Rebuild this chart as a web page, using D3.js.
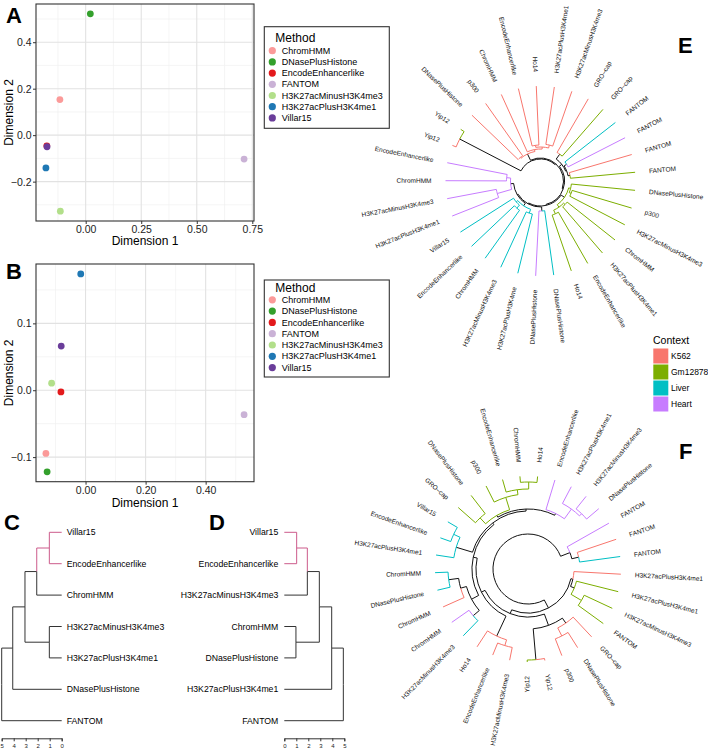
<!DOCTYPE html>
<html>
<head>
<meta charset="utf-8">
<script src="https://cdn.jsdelivr.net/npm/d3@7"></script>
<style>
html,body{margin:0;padding:0;background:#fff;}
svg{display:block;}
text{font-family:"Liberation Sans",Arial,Helvetica,sans-serif;}
</style>
</head>
<body>
<svg id="fig" width="708" height="754"></svg>
<script>
// ====================== DATA ======================
const methods = ["ChromHMM","DNasePlusHistone","EncodeEnhancerlike","FANTOM","H3K27acMinusH3K4me3","H3K27acPlusH3K4me1","Villar15"];
const methodColors = ["#FB9A99","#33A02C","#E31A1C","#CAB2D6","#B2DF8A","#1F78B4","#6A3D9A"];

// Panel A (MDS)
const mdsA_x = [-0.116, 0.021, -0.175, 0.713, -0.114, -0.179, -0.174];
const mdsA_y = [0.153, 0.522, -0.046, -0.103, -0.327, -0.141, -0.050];
const ticksA_x = [0, 0.25, 0.5, 0.75];
const ticksA_y = [-0.2, 0, 0.2, 0.4];

// Panel B (MDS)
const mdsB_x = [-0.132, -0.128, -0.082, 0.528, -0.113, -0.016, -0.081];
const mdsB_y = [-0.0945, -0.122, -0.0026, -0.0365, 0.0105, 0.174, 0.066];
const ticksB_x = [0, 0.2, 0.4];
const ticksB_y = [-0.1, 0, 0.1];

// Panels C and D (dendrograms: [height, child, child])
const treeC = [5.0, [4.08, [3.06, [2.08, [1.03, "Villar15", "EncodeEnhancerlike"], "ChromHMM"], [1.03, "H3K27acMinusH3K4me3", "H3K27acPlusH3K4me1"]], "DNasePlusHistone"], "FANTOM"];
const treeD = [4.92, [3.95, [2.92, [1.92, [1.03, "Villar15", "EncodeEnhancerlike"], "H3K27acMinusH3K4me3"], [0.97, "ChromHMM", "DNasePlusHistone"]], "H3K27acPlusH3K4me1"], "FANTOM"];
const dendroTicks = [0, 1, 2, 3, 4, 5];
const highlightLeaves = ["Villar15", "EncodeEnhancerlike"];

// Panels E and F (circular trees)
const contexts = ["K562", "Gm12878", "Liver", "Heart"];
const contextColors = ["#F8766D", "#7CAE00", "#00BFC4", "#C77CFF"];

const leavesE = ["Yip12","Yip12","DNasePlusHistone","p300","ChromHMM","EncodeEnhancerlike","Ho14","H3K27acPlusH3K4me1","H3K27acMinusH3K4me3","GRO\u2013cap",
  "GRO\u2013cap","FANTOM","FANTOM","FANTOM","FANTOM","DNasePlusHistone","p300","H3K27acMinusH3K4me3","ChromHMM","H3K27acPlusH3K4me1",
  "EncodeEnhancerlike","Ho14","DNasePlusHistone","DNasePlusHistone","H3K27acPlusH3K4me","H3K27acMinusH3K4me3","ChromHMM","EncodeEnhancerlike","Villar15","H3K27acPlusH3K4me1",
  "H3K27acMinusH3K4me3","ChromHMM","EncodeEnhancerlike"];
const contextE = [0,1,0,0,0,0,0,0,0,0, 1,2,3,0,1,1,1,1,1,1, 1,1,2,3,2,2,2,2,2,3, 3,3,3];
const treeE = [7.3, [0.4, 0, 1],
  [7.2, [6.5, [6.4, 2, 3], [6.3, 4, [6.1, [5.9, 5, 6], [5.8, 7, 8]]]],
    [7.1, [6.8, [6.2, 9, 10], [6.7, [6.4, 11, 12], [6.5, 13, 14]]],
      [7.0, [6.6, [6.4, 15, [6.2, 16, 17]], [6.3, [6.1, 18, 19], [5.9, 20, 21]]],
        [6.9, [6.5, 22, 23],
          [6.8, [6.5, [6.1, 24, 25], [6.3, [5.9, 26, 27], 28]],
                [6.5, [5.0, 29, 30], [6.1, 31, 32]]]]]]]];

const leavesF = ["GRO\u2013cap","DNasePlusHistone","p300","EncodeEnhancerlike","ChromHMM","Ho14","EncodeEnhancerlike","H3K27acPlusH3K4me1","H3K27acMinusH3K4me3","DNasePlusHistone",
  "FANTOM","FANTOM","FANTOM","H3K27acPlusH3K4me1","H3K27acPlusH3K4me1","H3K27acMinusH3K4me3","FANTOM","GRO\u2013cap","DNasePlusHistone","p300",
  "Yip12","Yip12","H3K27acMinusH3K4me3","EncodeEnhancerlike","Ho14","H3K27acMinusH3K4me3","ChromHMM","ChromHMM","DNasePlusHistone","ChromHMM",
  "H3K27acPlusH3K4me1","EncodeEnhancerlike","Villar15"];
const contextF = [1,1,1,1,1,1,3,3,3,3, 3,0,2,0,1,1,1,0,0,0, 0,1,0,0,0,2,3,0,2,2, 2,2,2];
const treeF = [5.8,
  [4.9, [4.7, 13, [4.3, 14, [3.1, 15, 16]]],
    [4.5, [3.3, [2.7, 17, [1.8, 18, 19]], [0.2, 20, 21]],
      [4.1, [1.9, [1.3, 22, 23], 24],
        [3.7, [2.9, [2.1, 25, 26], [2.3, 27, [1.3, 28, 29]]],
          [3.5, [1.8, 30, [1.1, 31, 32]],
            [3.3, [3.1, [2.3, 0, 1], [1.8, 2, [1.3, 3, [0.6, 4, 5]]]],
                  [3.1, 6, [1.9, 7, [1.6, 8, 9]]]]]]]]],
  [4.8, 10, [4.1, 11, 12]]];

// ====================== DRAWING ======================
const svg = d3.select("#fig");
svg.append("rect").attr("width", 708).attr("height", 754).attr("fill", "#fff");
const FONT = '"Liberation Sans",Arial,Helvetica,sans-serif';

function panelLetter(t, x, y) {
  svg.append("text").attr("x", x).attr("y", y).text(t)
    .attr("font-size", 22).attr("font-weight", "bold").attr("fill", "#000");
}

function expand(arr) {
  const e = d3.extent(arr), d = (e[1] - e[0]) * 0.05;
  return [e[0] - d, e[1] + d];
}
function minorBreaks(ticks, dom) {
  const s = ticks[1] - ticks[0], res = [];
  for (let k = -2; k < ticks.length + 2; k++) {
    const v = ticks[0] + s * k - s / 2;
    if (v >= dom[0] && v <= dom[1]) res.push(v);
  }
  return res;
}

function scatterPanel(o) {
  const x = d3.scaleLinear().domain(expand(o.xs)).range([o.x0, o.x1]);
  const y = d3.scaleLinear().domain(expand(o.ys)).range([o.y1, o.y0]);
  const g = svg.append("g");
  minorBreaks(o.xt, x.domain()).forEach(v => g.append("line").attr("x1", x(v)).attr("x2", x(v)).attr("y1", o.y0).attr("y2", o.y1).attr("stroke", "#F1F1F1").attr("stroke-width", 0.7));
  minorBreaks(o.yt, y.domain()).forEach(v => g.append("line").attr("y1", y(v)).attr("y2", y(v)).attr("x1", o.x0).attr("x2", o.x1).attr("stroke", "#F1F1F1").attr("stroke-width", 0.7));
  o.xt.forEach(v => g.append("line").attr("x1", x(v)).attr("x2", x(v)).attr("y1", o.y0).attr("y2", o.y1).attr("stroke", "#E2E2E2").attr("stroke-width", 1.1));
  o.yt.forEach(v => g.append("line").attr("y1", y(v)).attr("y2", y(v)).attr("x1", o.x0).attr("x2", o.x1).attr("stroke", "#E2E2E2").attr("stroke-width", 1.1));
  g.selectAll("circle.pt").data(methods).enter().append("circle")
    .attr("cx", (d, i) => x(o.xs[i])).attr("cy", (d, i) => y(o.ys[i])).attr("r", 3.4)
    .attr("fill", (d, i) => methodColors[i]);
  g.append("rect").attr("x", o.x0).attr("y", o.y0).attr("width", o.x1 - o.x0).attr("height", o.y1 - o.y0)
    .attr("fill", "none").attr("stroke", "#333").attr("stroke-width", 1.1);
  const ax = g.append("g").attr("transform", `translate(0,${o.y1})`)
    .call(d3.axisBottom(x).tickValues(o.xt).tickFormat(o.xfmt).tickSize(3).tickPadding(1.5));
  const ay = g.append("g").attr("transform", `translate(${o.x0},0)`)
    .call(d3.axisLeft(y).tickValues(o.yt).tickFormat(o.yfmt).tickSize(3).tickPadding(1.5));
  [ax, ay].forEach(a => {
    a.select(".domain").remove();
    a.selectAll(".tick line").attr("stroke", "#333");
    a.selectAll(".tick text").attr("font-size", 10.5).attr("fill", "#222").attr("font-family", FONT);
  });
  g.append("text").attr("x", (o.x0 + o.x1) / 2).attr("y", o.xTitleY).attr("text-anchor", "middle")
    .attr("font-size", 12).attr("fill", "#000").text("Dimension 1");
  g.append("text").attr("transform", `translate(13.3,${(o.y0 + o.y1) / 2}) rotate(-90)`).attr("text-anchor", "middle")
    .attr("font-size", 12).attr("fill", "#000").text("Dimension 2");
  const L = o.legend;
  g.append("rect").attr("x", 264.3).attr("y", L.top).attr("width", 125).attr("height", L.bottom - L.top)
    .attr("fill", "#fff").attr("stroke", "#333").attr("stroke-width", 1.1);
  g.append("text").attr("x", 275.3).attr("y", L.title).attr("font-size", 12).attr("fill", "#000").text("Method");
  methods.forEach((m, i) => {
    const cy = L.first + i * L.step;
    g.append("circle").attr("cx", 272.3).attr("cy", cy).attr("r", 3.6).attr("fill", methodColors[i]);
    g.append("text").attr("x", 281.7).attr("y", cy).attr("dy", "0.35em").attr("font-size", 9).attr("fill", "#000").text(m);
  });
}

const fmt2 = d3.format(".2f"), fmt1 = d3.format(".1f");
scatterPanel({x0: 36, x1: 254, y0: 4, y1: 221, xs: mdsA_x, ys: mdsA_y, xt: ticksA_x, yt: ticksA_y,
  xfmt: fmt2, yfmt: fmt1, xTitleY: 245,
  legend: {top: 26.7, bottom: 128.3, title: 41.7, first: 50.7, step: 11.2}});
scatterPanel({x0: 36, x1: 254, y0: 264, y1: 481.7, xs: mdsB_x, ys: mdsB_y, xt: ticksB_x, yt: ticksB_y,
  xfmt: fmt2, yfmt: fmt1, xTitleY: 507,
  legend: {top: 280, bottom: 377, title: 291.5, first: 299.8, step: 11.3}});
panelLetter("A", 6, 23);
panelLetter("B", 6, 278.5);

// ----- Dendrograms C and D -----
function dendrogram(spec, o) {
  const root = d3.hierarchy(spec, d => Array.isArray(d) ? d.slice(1) : null);
  const x = d3.scaleLinear().domain([0, 5]).range(o.xr);
  const y = d3.scaleLinear().domain([1, 7]).range([532.3, 720.7]);
  let pos = 1;
  root.eachAfter(n => {
    if (!n.children) { n.h = 0; n.py = pos++; n.hl = highlightLeaves.includes(n.data); }
    else { n.h = n.data[0]; n.py = d3.mean(n.children, c => c.py); n.hl = n.children.every(c => c.hl); }
  });
  const g = svg.append("g");
  root.descendants().forEach(c => {
    if (!c.parent) return;
    const p = c.parent;
    const pth = d3.path();
    pth.moveTo(x(p.h), y(p.py)); pth.lineTo(x(p.h), y(c.py)); pth.lineTo(x(c.h), y(c.py));
    g.append("path").attr("d", pth.toString()).attr("fill", "none")
      .attr("stroke", c.hl ? "#CC5B8B" : "#333").attr("stroke-width", 1);
  });
  root.leaves().forEach(l => {
    g.append("text").attr("x", x(0) + o.labOff).attr("y", y(l.py)).attr("dy", "0.35em")
      .attr("text-anchor", o.anchor).attr("font-size", 8.7).attr("fill", "#000").text(l.data);
  });
  const ax = g.append("g").attr("transform", "translate(0,738.3)")
    .call(d3.axisBottom(x).tickValues(dendroTicks).tickFormat(d3.format("d")).tickSize(3).tickPadding(2));
  ax.select(".domain").attr("stroke", "#333");
  ax.selectAll(".tick line").attr("stroke", "#333");
  ax.selectAll(".tick text").attr("font-size", 6).attr("fill", "#222").attr("font-family", FONT);
}
dendrogram(treeC, {xr: [61.7, 1.7], labOff: 5, anchor: "start"});
dendrogram(treeD, {xr: [284.3, 344.3], labOff: -6, anchor: "end"});
panelLetter("C", 4, 530);
panelLetter("D", 209, 530);

// ----- Circular trees E and F -----
function radialTree(spec, o) {
  const n = o.labels.length, step = 360 / n, rad = Math.PI / 180;
  const rScale = d3.scaleLinear().domain([0, o.hMax]).range([o.tipR, 0]);
  const root = d3.hierarchy(spec, d => Array.isArray(d) ? d.slice(1) : null);
  let pos = 0;
  root.eachAfter(nd => {
    if (!nd.children) { nd.h = 0; nd.ang = o.start - (pos++) * step; nd.ctx = o.ctx[nd.data]; }
    else {
      nd.h = nd.data[0]; nd.ang = d3.mean(nd.children, c => c.ang);
      const c0 = nd.children[0].ctx;
      nd.ctx = (c0 !== null && nd.children.every(c => c.ctx === c0)) ? c0 : null;
    }
    nd.r = rScale(nd.h);
  });
  const g = svg.append("g");
  const edges = root.descendants().filter(c => c.parent).map(c => {
    const p = c.parent;
    const colored = !c.children || (c.ctx !== null && p.ctx === c.ctx);
    return {c, p, col: colored ? contextColors[c.ctx] : "#111", colored};
  });
  edges.sort((a, b) => (a.colored ? 1 : 0) - (b.colored ? 1 : 0));
  edges.forEach(e => {
    const a0 = -e.p.ang * rad, a1 = -e.c.ang * rad;
    const pth = d3.path();
    pth.moveTo(o.cx + e.p.r * Math.cos(a0), o.cy + e.p.r * Math.sin(a0));
    if (Math.abs(a1 - a0) > 1e-9) pth.arc(o.cx, o.cy, e.p.r, a0, a1, a1 < a0);
    pth.lineTo(o.cx + e.c.r * Math.cos(a1), o.cy + e.c.r * Math.sin(a1));
    g.append("path").attr("d", pth.toString()).attr("fill", "none").attr("stroke", e.col).attr("stroke-width", 1);
  });
  root.leaves().forEach(l => {
    const th = l.ang, right = Math.cos(th * rad) >= -1e-6;
    const lx = o.cx + o.labelR * Math.cos(-th * rad), ly = o.cy + o.labelR * Math.sin(-th * rad);
    g.append("text").attr("x", lx).attr("y", ly).attr("dy", "0.35em")
      .attr("transform", `rotate(${right ? -th : 180 - th},${lx},${ly})`)
      .attr("text-anchor", right ? "start" : "end").attr("font-size", 6.5).attr("fill", "#111")
      .text(o.labels[l.data]);
  });
}
radialTree(treeE, {cx: 540.5, cy: 181, tipR: 95, hMax: 9.5, start: 158, labelR: 109, labels: leavesE, ctx: contextE});
radialTree(treeF, {cx: 528, cy: 569, tipR: 93, hMax: 9.3, start: -3.2, labelR: 107, labels: leavesF, ctx: contextF});
panelLetter("E", 678, 53);
panelLetter("F", 679, 459);

// Context legend
const lg = svg.append("g");
lg.append("text").attr("x", 653).attr("y", 344).attr("font-size", 10.5).attr("fill", "#000").text("Context");
contexts.forEach((c, i) => {
  lg.append("rect").attr("x", 653.3).attr("y", 348.5 + i * 16).attr("width", 15).attr("height", 15).attr("fill", contextColors[i]);
  lg.append("text").attr("x", 671).attr("y", 356 + i * 16).attr("dy", "0.35em").attr("font-size", 8.5).attr("fill", "#000").text(c);
});
</script>
</body>
</html>
